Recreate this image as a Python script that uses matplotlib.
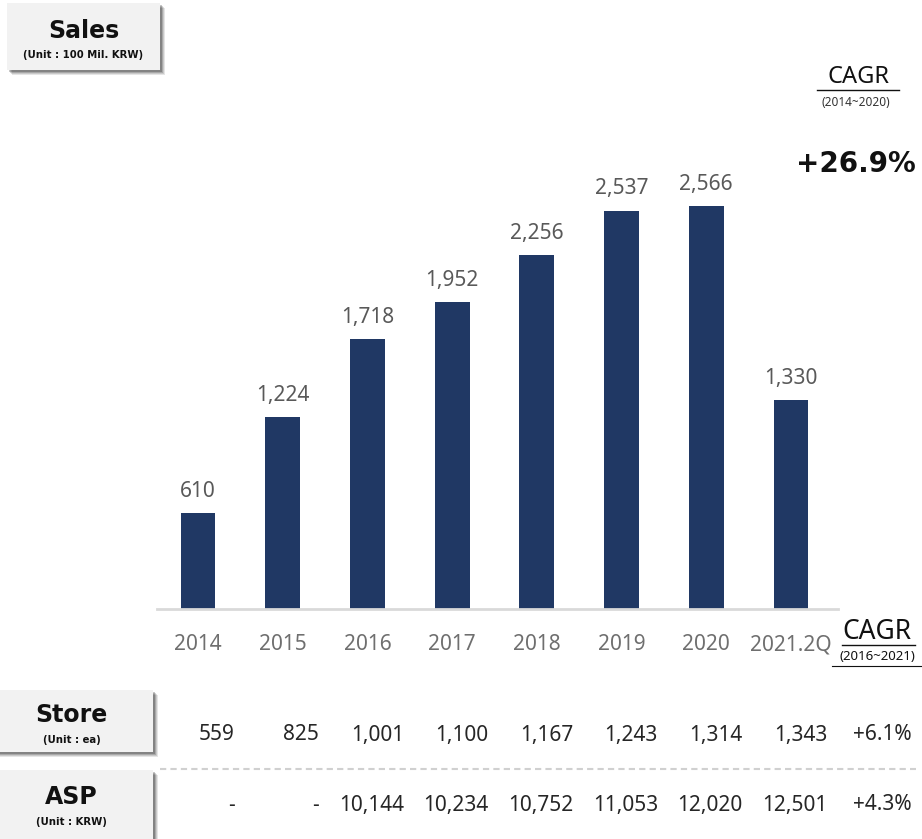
import matplotlib
matplotlib.use("Agg")
import matplotlib.pyplot as plt
import matplotlib.transforms as mtransforms
from matplotlib.patches import Rectangle
from matplotlib.lines import Line2D

# data
years = ["2014", "2015", "2016", "2017", "2018", "2019", "2020", "2021.2Q"]
sales = [610, 1224, 1718, 1952, 2256, 2537, 2566, 1330]
stores = ["559", "825", "1,001", "1,100", "1,167", "1,243", "1,314", "1,343"]
asp = ["-", "-", "10,144", "10,234", "10,752", "11,053", "12,020", "12,501"]
store_cagr = "+6.1%"
asp_cagr = "+4.3%"
sales_cagr = "+26.9%"

NARROW = ["Liberation Sans Narrow", "Noto Sans", "DejaVu Sans"]
REG = ["Noto Sans", "DejaVu Sans"]
BOLD = "DejaVu Sans"
W, H = 922, 839

fig = plt.figure(figsize=(W / 100, H / 100), dpi=100)


def fx(px):
    return px / W


def fy(py):
    return 1 - py / H


# bar chart area (pixel geometry of the reference)
ax = fig.add_axes([fx(157), fy(609), fx(838 - 157), (609 - 130) / H])
x = list(range(len(years)))
ax.bar(x, sales, width=0.41, color="#203864", zorder=2)
ax.set_xlim(-0.484, 7.555)
ax.set_ylim(0, 479 / 0.15705)
for s in ["top", "right", "left"]:
    ax.spines[s].set_visible(False)
ax.spines["bottom"].set_color("#d9d9d9")
ax.spines["bottom"].set_linewidth(2)
ax.set_yticks([])
ax.set_xticks(x)
ax.set_xticklabels(years, family=NARROW, fontsize=15, color="#6f6f6f")
ax.tick_params(axis="x", length=0, pad=18)
for xi, v in zip(x, sales):
    ax.annotate(f"{v:,}", (xi, v), xytext=(0, 8), textcoords="offset points",
                ha="center", va="bottom", family=NARROW, fontsize=15,
                color="#595959")

# table rows under the chart
trans = mtransforms.blended_transform_factory(ax.transData, fig.transFigure)
for xi, s, a in zip(x, stores, asp):
    ax.text(xi + 0.43, fy(735), s, transform=trans, ha="right", va="center",
            family=NARROW, fontsize=15, color="#262626", clip_on=False)
    ax.text(xi + 0.43, fy(805), a, transform=trans, ha="right", va="center",
            family=NARROW, fontsize=15, color="#262626", clip_on=False)
ax.text(8.43, fy(735), store_cagr, transform=trans, ha="right", va="center",
        family=NARROW, fontsize=15, color="#262626", clip_on=False)
ax.text(8.43, fy(805), asp_cagr, transform=trans, ha="right", va="center",
        family=NARROW, fontsize=15, color="#262626", clip_on=False)
fig.add_artist(Line2D([fx(160), fx(916)], [fy(769), fy(769)], color="#d0d0d0",
                      lw=1.5, ls=(0, (3, 2))))


# label boxes with a soft shadow
def label_box(x0, y0, x1, y1, title, unit, ty, uy, tsize, usize):
    for i, alpha in enumerate([0.10, 0.12, 0.16, 0.22]):
        off = 5 - i
        fig.add_artist(Rectangle((fx(x0 + off), fy(y1 + off)),
                                 fx(x1 - x0), (y1 - y0) / H,
                                 color="#000000", alpha=alpha, lw=0))
    fig.add_artist(Rectangle((fx(x0), fy(y1)), fx(x1 - x0), (y1 - y0) / H,
                             color="#f2f2f2", lw=0))
    cx = fx((x0 + x1) / 2)
    fig.text(cx, fy(ty), title, ha="center", va="center", family=BOLD,
             fontsize=tsize, fontweight="bold", color="#111111")
    fig.text(cx, fy(uy), unit, ha="center", va="center", family=BOLD,
             fontsize=usize, fontweight="bold", color="#111111")


label_box(7, 3, 160, 70, "Sales", "(Unit : 100 Mil. KRW)", 31, 55, 17, 7.3)
label_box(-10, 690, 153, 752, "Store", "(Unit : ea)", 715, 740, 17, 7.3)
label_box(-10, 770, 153, 850, "ASP", "(Unit : KRW)", 797, 822, 17, 7.3)

# CAGR annotations
fig.text(fx(858), fy(77), "CAGR", ha="center", va="center", family=REG,
         fontsize=17, color="#111111")
fig.add_artist(Line2D([fx(817), fx(899)], [fy(90), fy(90)], color="#111111", lw=1))
fig.text(fx(856), fy(103), "(2014~2020)", ha="center", va="center",
         family=REG, fontsize=8.5, color="#333333")
fig.text(fx(856), fy(164), sales_cagr, ha="center", va="center", family=BOLD,
         fontsize=20, fontweight="bold", color="#111111")

fig.text(fx(877), fy(632), "CAGR", ha="center", va="center", family=NARROW,
         fontsize=19, color="#111111")
fig.add_artist(Line2D([fx(842), fx(915)], [fy(645), fy(645)], color="#111111", lw=1))
fig.text(fx(877), fy(657), "(2016~2021)", ha="center", va="center",
         family=NARROW, fontsize=9.5, color="#111111")
fig.add_artist(Line2D([fx(832), fx(922)], [fy(666), fy(666)], color="#111111", lw=0.8))

fig.savefig("out.png", dpi=100)
